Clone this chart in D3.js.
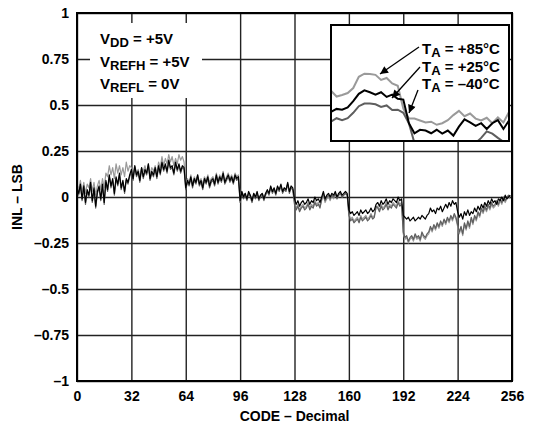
<!DOCTYPE html>
<html>
<head>
<meta charset="utf-8">
<script src="https://cdn.jsdelivr.net/npm/d3@7"></script>
<style>
body { margin: 0; background: #fff; }
svg { display: block; }
text { font-family: "Liberation Sans", Arial, sans-serif; font-weight: bold; fill: #000; }
</style>
</head>
<body>
<div id="chart"></div>
<script>
(function(){
var width = 550,
	height = 427,
	margin = {top:13,right:38,bottom:46,left:77};

// INL in 1/100 LSB, one value per code 0..255
var inl25 = [5,2,7,-1,6,-3,4,1,8,-2,5,-5,3,6,-1,7,-3,
	9,4,12,6,10,2,11,7,13,5,9,3,10,8,12,
	15,10,17,12,14,9,16,11,15,13,18,10,14,12,16,11,
	17,13,19,15,18,14,20,16,17,13,19,15,18,14,17,16,
	5,9,7,11,6,10,8,12,7,9,5,10,8,11,6,9,10,7,12,8,11,9,13,8,10,12,9,11,8,12,10,11,
	-2,3,0,2,-1,3,1,-2,2,0,3,-1,1,2,-1,2,
	4,2,6,3,5,2,6,4,7,3,5,4,8,3,6,5,
	-1,-4,-2,-5,-3,-2,-4,-3,-1,-4,-2,-3,0,-2,-1,-3,
	0,3,-1,1,2,0,2,1,3,0,2,3,1,2,3,2,
	-7,-9,-8,-10,-9,-8,-10,-7,-9,-8,-7,-9,-8,-6,-8,-7,
	-4,-3,-5,-2,-4,-3,-1,-4,-2,-3,-1,-2,-3,0,-2,-1,
	-10,-11,-12,-11,-13,-12,-11,-13,-12,-11,-12,-10,-11,-12,-10,-9,
	-6,-8,-7,-9,-6,-7,-5,-8,-6,-4,-6,-3,-5,-2,-4,-3,
	-8,-11,-9,-12,-8,-10,-7,-10,-8,-9,-6,-8,-5,-7,-4,-6,
	-3,-5,-2,-4,-1,-3,-2,-4,-1,-2,0,-2,1,-1,0,1];

var inl85 = [7,4,9,3,8,2,7,5,10,3,8,1,6,9,4,10,5,
	13,11,17,12,16,10,18,13,17,12,16,11,19,14,17,
	16,12,17,13,15,11,16,14,17,13,18,12,16,14,17,13,
	19,16,22,17,21,18,23,19,22,17,21,18,23,20,22,19,
	7,10,8,12,7,11,9,12,8,10,7,11,9,12,8,10,11,8,13,9,12,10,14,9,11,13,10,12,9,13,11,12,
	0,3,1,2,-1,2,1,-2,2,0,2,-1,1,2,0,2,
	3,2,5,3,4,2,5,4,6,3,5,4,7,3,5,4,
	-3,-6,-4,-7,-5,-4,-6,-5,-3,-6,-4,-5,-2,-4,-3,-5,
	-2,1,-3,-1,0,-2,1,-1,2,-1,1,2,0,1,2,1,
	-9,-12,-11,-13,-12,-11,-13,-10,-12,-11,-10,-12,-11,-9,-11,-10,
	-6,-5,-7,-4,-6,-5,-3,-6,-4,-5,-3,-4,-5,-2,-4,-3,
	-20,-23,-22,-25,-23,-22,-24,-21,-23,-22,-24,-20,-22,-23,-21,-20,
	-17,-19,-16,-18,-15,-17,-14,-16,-13,-15,-12,-14,-11,-13,-10,-12,
	-16,-20,-17,-21,-15,-18,-14,-17,-12,-15,-11,-13,-9,-11,-7,-9,
	-6,-8,-5,-7,-4,-6,-5,-3,-5,-2,-4,-1,-3,-1,0,-1];

var inl40 = [4,1,6,-2,5,-4,3,0,7,-3,4,-6,2,5,-2,6,-4,
	8,3,11,5,9,1,10,6,12,4,8,2,9,7,11,
	14,9,16,11,13,8,15,10,14,12,17,9,13,11,15,10,
	16,12,18,14,17,13,19,15,16,12,18,14,17,13,16,15,
	4,8,6,10,5,9,7,11,6,8,4,9,7,10,5,8,9,6,11,7,10,8,12,7,9,11,8,10,7,11,9,10,
	-3,2,-1,1,-2,2,0,-3,1,-1,2,-2,0,1,-2,1,
	3,1,5,2,4,1,5,3,6,2,4,3,7,2,5,4,
	-4,-7,-5,-8,-6,-5,-7,-6,-4,-7,-5,-6,-3,-5,-4,-6,
	-1,2,-2,0,1,-1,1,0,2,-1,1,2,0,1,2,1,
	-10,-13,-12,-14,-13,-12,-14,-11,-13,-12,-11,-13,-12,-10,-12,-11,
	-5,-6,-8,-5,-7,-6,-4,-7,-5,-6,-4,-5,-6,-3,-5,-4,
	-19,-22,-21,-24,-22,-21,-23,-20,-22,-21,-23,-19,-21,-22,-20,-19,
	-16,-18,-15,-17,-14,-16,-13,-15,-12,-14,-11,-13,-10,-12,-9,-11,
	-15,-19,-16,-20,-14,-17,-13,-16,-11,-14,-10,-12,-8,-10,-6,-8,
	-5,-7,-4,-6,-3,-5,-4,-2,-4,-1,-3,0,-2,0,1,0];

// magnified view (codes 48..80), in 1/1000 LSB
var insetCodes = d3.range(48,81);
var zoom85 = [130,115,119,124,137,166,174,173,171,158,163,149,143,84,58,58,53,48,50,42,46,54,67,78,64,71,58,53,60,46,61,48,75];
var zoom25 = [75,83,81,87,103,122,131,126,120,126,114,120,109,107,46,20,29,27,20,29,19,27,14,37,56,48,39,46,31,46,54,31,53];
var zoom40 = [50,59,54,59,73,90,97,97,95,88,92,80,81,73,46,-5,-30,-30,-30,-30,-30,-30,-30,-30,-30,-30,-5,8,25,19,8,-2,-9];

var xTicks = [0,32,64,96,128,160,192,224,256];
var yTicks = [1,0.75,0.5,0.25,0,-0.25,-0.5,-0.75,-1];
var series = [
	{name:"+85", data:inl85, zoom:zoom85, color:"#9a9a9a"},
	{name:"-40", data:inl40, zoom:zoom40, color:"#5e5e5e"},
	{name:"+25", data:inl25, zoom:zoom25, color:"#000"}
];
var labels = ["+85\u00b0C","+25\u00b0C","\u201340\u00b0C"];

var w = width - margin.left - margin.right,
	h = height - margin.top - margin.bottom;

var X = d3.scaleLinear().domain([0,256]).range([0,w]);
var Y = d3.scaleLinear().domain([-1,1]).range([h,0]);

var fmt = function(d){ return (d<0 ? "\u2013" : "") + Math.abs(d); };

var svg = d3.select("#chart").append("svg")
	.attr("width",width)
	.attr("height",height);

var g = svg.append("g").attr("transform","translate("+margin.left+","+margin.top+")");

g.append("g")
	.attr("class","grid")
	.call(d3.axisLeft(Y).tickValues(yTicks).tickFormat(fmt).tickSizeInner(-w).tickSizeOuter(0).tickPadding(8))
	.call(function(a){
		a.select(".domain").remove();
		a.selectAll("line").attr("stroke","#222").attr("stroke-width",1.4);
		a.selectAll("text").style("font-size","14px").style("font-weight","bold");
	});

g.append("g")
	.attr("transform","translate(0,"+h+")")
	.call(d3.axisBottom(X).tickValues(xTicks).tickSizeInner(-h).tickSizeOuter(0).tickPadding(10))
	.call(function(a){
		a.select(".domain").remove();
		a.selectAll("line").attr("stroke","#222").attr("stroke-width",1.4);
		a.selectAll("text").style("font-size","14px").style("font-weight","bold");
	});

g.selectAll("text").attr("font-family",null);

// supply note box
var note = g.append("g").attr("transform","translate(23,0)");
note.append("rect").attr("x",-10).attr("y",10).attr("width",112).attr("height",75).attr("fill","#fff");
var notes = [["V","DD"," = +5V"],["V","REFH"," = +5V"],["V","REFL"," = 0V"]];
notes.forEach(function(n,i){
	var t = note.append("text").attr("y",31+i*22.5).style("font-size","15px");
	t.append("tspan").text(n[0]);
	t.append("tspan").attr("dy",3).style("font-size","13px").text(n[1]);
	t.append("tspan").attr("dy",-3).text(n[2]);
});

var line = d3.line().x(function(d,i){return X(i)}).y(function(d){return Y(d/100)});

g.selectAll(".inl").data(series).enter().append("path")
	.attr("class","inl")
	.attr("fill","none")
	.attr("stroke",function(d){return d.color})
	.attr("stroke-width",1.2)
	.attr("stroke-linejoin","round")
	.attr("d",function(d){return line(d.data)});

g.append("rect").attr("width",w).attr("height",h)
	.attr("fill","none").attr("stroke","#000").attr("stroke-width",2);

// inset
var ix = 254, iy = 12, iw = 178, ih = 116;
var inset = g.append("g").attr("transform","translate("+ix+","+iy+")");
inset.append("clipPath").attr("id","iclip").append("rect").attr("width",iw).attr("height",ih);
inset.append("rect").attr("width",iw).attr("height",ih).attr("fill","#fff");

var IX = d3.scaleLinear().domain([48,80]).range([0,iw]);
var IY = d3.scaleLinear().domain([0,0.3]).range([ih,0]);
var iline = d3.line().x(function(d,i){return IX(insetCodes[i])}).y(function(d){return IY(d/1000)});

inset.append("g").attr("clip-path","url(#iclip)")
	.selectAll("path").data(series).enter().append("path")
	.attr("fill","none")
	.attr("stroke",function(d){return d.color})
	.attr("stroke-width",2)
	.attr("d",function(d){return iline(d.zoom)});

inset.append("rect").attr("width",iw).attr("height",ih)
	.attr("fill","none").attr("stroke","#000").attr("stroke-width",2);

labels.forEach(function(l,i){
	var t = inset.append("text").attr("x",91).attr("y",29+i*17.5).style("font-size","15px");
	t.append("tspan").text("T");
	t.append("tspan").attr("dy",3).style("font-size","13px").text("A");
	t.append("tspan").attr("dy",-3).text(" = "+l);
});

svg.append("defs").append("marker")
	.attr("id","arr").attr("viewBox","0 0 10 10")
	.attr("refX",10).attr("refY",5)
	.attr("markerWidth",10).attr("markerHeight",8)
	.attr("markerUnits","userSpaceOnUse")
	.attr("orient","auto")
	.append("path").attr("d","M0,0L10,5L0,10z").attr("fill","#000");

var arrows = [[88,22,49,49],[89,42,61,73],[87,65,78,88]];
inset.selectAll(".arrow").data(arrows).enter().append("line")
	.attr("x1",function(d){return d[0]}).attr("y1",function(d){return d[1]})
	.attr("x2",function(d){return d[2]}).attr("y2",function(d){return d[3]})
	.attr("stroke","#000").attr("stroke-width",1.3)
	.attr("marker-end","url(#arr)");

// axis titles
svg.append("text")
	.attr("x",margin.left+w/2).attr("y",421)
	.attr("text-anchor","middle").style("font-size","14px")
	.text("CODE \u2013 Decimal");

svg.append("text")
	.attr("transform","translate(22,"+(margin.top+h/2)+") rotate(-90)")
	.attr("text-anchor","middle").style("font-size","14px")
	.text("INL \u2013 LSB");

})()
</script>
</body>
</html>
